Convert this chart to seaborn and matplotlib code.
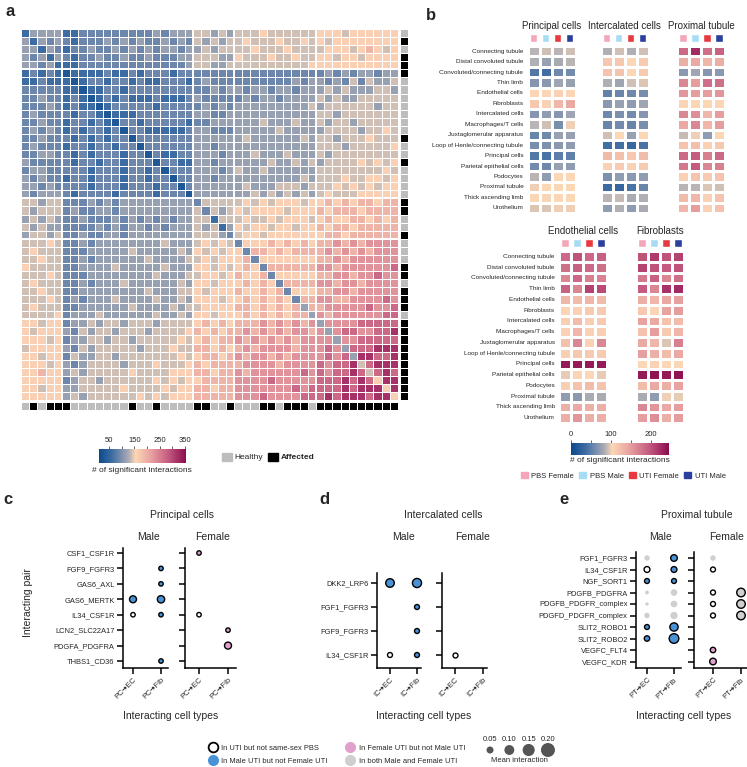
import matplotlib
matplotlib.use('Agg')
import matplotlib.pyplot as plt
from matplotlib import font_manager
from matplotlib.colors import LinearSegmentedColormap, ListedColormap
from matplotlib.patches import Patch
from matplotlib.lines import Line2D
import numpy as np
import pandas as pd
import seaborn as sns

sns.set_style('white')
plt.rcParams['font.family'] = ['Liberation Sans', 'DejaVu Sans']

# ---------------- panel a: sample x sample interaction counts (lower triangle, read by eye)
a_levels = {'0': 30, '1': 60, '2': 90, '3': 115, '4': 140, '5': 162,
            '6': 195, '7': 230, '8': 270, '9': 320}
a_rows = [
    "1", "31", "331", "3231", "33231",
    "12121 0", "11211 1 0", "22222 11 0", "22322 121 0", "22232 1211 0",
    "23222 21221 0", "22322 122121 0", "23232 1212212 0", "22322 21212122 0",
    "23222 122122122 0", "22332 2121222122 0", "32222 21221221222 0",
    "23322 222122212212 0", "32322 1221222122122 0", "33232 22212221222122 0",
    "32333 212222122221222 0",
    "44344 2223232333333333 2",
    "43444 2322332333333333 4 2",
    "34343 2232223232323233 44 1",
    "43433 2222323233232333 434 1",
    "34434 2232233233333333 4443 2",
    "44454 2232333333334333 45454 2",
    "45444 2223333343333343 54545 5 2",
    "44544 2232333333433334 45455 56 2",
    "54444 2233334333334333 55454 565 2",
    "44454 2223333333343334 45545 6556 2",
    "45444 2232333433333343 55455 56565 2",
    "44544 2233333333433344 54555 655656 2",
    "44454 2323334333343343 55545 5656565 2",
    "45444 2233333343333434 45555 66565656 3",
    "44445 2333433333343343 55455 565656566 3",
    "55455 2334344344434444 56565 6667676767 3",
    "54555 3243443444344445 65656 6767676776 7 3",
    "55545 2334434434444454 56566 7676767677 77 3",
    "45555 3243444443444544 66565 6767777677 787 3",
    "55455 2433443444444454 56656 7677676777 7878 3",
    "55545 3234444344454445 65666 6777767777 87889 4",
    "55655 3434444454444555 66566 7677777787 878898 4",
    "55555 2344344444454545 56666 7777877777 8889898 5",
    "55455 3344444544445455 66566 7777777878 88898999 5",
    "55555 3434444445454555 66666 7778777788 898999899 5",
]
a_status = "HAHAAAHHHHHHHAHHAHHHHAAHHAHHHAAHAAAHAAAAAAAAAA"
a_breaks = [5, 21, 26, 36]

# ---------------- panel b
b_rows = ["Connecting tubule", "Distal convoluted tubule", "Convoluted/connecting tubule",
          "Thin limb", "Endothelial cells", "Fibroblasts", "Intercalated cells",
          "Macrophages/T cells", "Juxtaglomerular apparatus", "Loop of Henle/connecting tubule",
          "Principal cells", "Parietal epithelial cells", "Podocytes", "Proximal tubule",
          "Thick ascending limb", "Urothelium"]
b_groups = ["PBS Female", "PBS Male", "UTI Female", "UTI Male"]
b_colors = ["#f4a7b9", "#a8dcf5", "#e8393f", "#2b3f9e"]
b_pc = [[88, 92, 88, 92], [85, 75, 82, 88], [45, 38, 58, 60], [68, 70, 78, 75],
        [105, 105, 108, 105], [115, 108, 130, 140], [68, 72, 68, 78], [88, 92, 62, 100],
        [55, 58, 75, 75], [62, 65, 70, 72], [45, 42, 50, 52], [60, 58, 75, 72],
        [88, 72, 103, 103], [100, 103, 103, 103], [103, 102, 103, 103], [95, 95, 100, 100]]
b_ic = [[85, 92, 85, 92], [115, 115, 103, 112], [118, 118, 103, 112], [85, 78, 92, 95],
        [52, 55, 58, 62], [70, 75, 72, 78], [58, 65, 60, 68], [55, 60, 55, 62],
        [92, 103, 75, 103], [38, 40, 32, 42], [128, 122, 115, 125], [108, 112, 108, 112],
        [65, 72, 70, 72], [35, 30, 42, 55], [88, 90, 82, 85], [72, 85, 72, 82]]
b_pt = [[185, 225, 180, 190], [135, 140, 130, 135], [70, 78, 68, 70], [165, 150, 180, 180],
        [155, 150, 150, 155], [105, 103, 103, 105], [165, 160, 130, 150], [140, 165, 130, 150],
        [90, 100, 72, 103], [118, 122, 108, 115], [185, 195, 170, 185], [175, 195, 165, 170],
        [108, 118, 112, 118], [88, 88, 95, 92], [125, 130, 108, 118], [130, 150, 108, 120]]
b_ec = [[185, 200, 185, 190], [180, 190, 185, 180], [165, 185, 170, 168], [190, 165, 210, 205],
        [130, 125, 130, 125], [105, 108, 112, 112], [110, 125, 110, 112], [108, 130, 108, 110],
        [122, 165, 108, 165], [110, 115, 112, 112], [235, 235, 235, 235], [98, 105, 103, 98],
        [110, 120, 125, 120], [72, 70, 82, 82], [135, 140, 135, 135], [135, 155, 135, 135]]
b_fib = [[200, 215, 200, 210], [210, 200, 195, 200], [175, 190, 165, 180], [195, 165, 220, 225],
         [135, 130, 140, 148], [115, 105, 145, 150], [145, 140, 120, 125], [120, 150, 112, 130],
         [140, 130, 95, 170], [148, 135, 125, 140], [103, 108, 103, 103], [235, 240, 235, 240],
         [125, 140, 135, 145], [82, 72, 100, 98], [165, 155, 140, 150], [150, 160, 135, 150]]

# ---------------- panels c, d, e (dot plots)
c_pairs = ["CSF1_CSF1R", "FGF9_FGFR3", "GAS6_AXL", "GAS6_MERTK", "IL34_CSF1R",
           "LCN2_SLC22A17", "PDGFA_PDGFRA", "THBS1_CD36"]
c_pair = ["FGF9_FGFR3", "GAS6_AXL", "GAS6_MERTK", "GAS6_MERTK", "IL34_CSF1R", "IL34_CSF1R",
          "THBS1_CD36", "CSF1_CSF1R", "IL34_CSF1R", "LCN2_SLC22A17", "PDGFA_PDGFRA"]
c_target = ["Fib", "Fib", "EC", "Fib", "EC", "Fib", "Fib", "EC", "EC", "Fib", "Fib"]
c_sex = ["Male"] * 7 + ["Female"] * 4
c_mean = [0.02, 0.02, 0.05, 0.055, 0.02, 0.02, 0.02, 0.02, 0.02, 0.02, 0.05]
c_group = ["male", "male", "male", "male", "none", "male", "male", "female", "none", "female", "female"]
c_ring = [1] * 11

d_pairs = ["DKK2_LRP6", "FGF1_FGFR3", "FGF9_FGFR3", "IL34_CSF1R"]
d_pair = ["DKK2_LRP6", "DKK2_LRP6", "FGF1_FGFR3", "FGF9_FGFR3", "IL34_CSF1R", "IL34_CSF1R", "IL34_CSF1R"]
d_target = ["EC", "Fib", "Fib", "Fib", "EC", "Fib", "EC"]
d_sex = ["Male"] * 6 + ["Female"]
d_mean = [0.075, 0.085, 0.025, 0.025, 0.025, 0.025, 0.025]
d_group = ["male", "male", "male", "male", "none", "male", "none"]
d_ring = [1] * 7

e_pairs = ["FGF1_FGFR3", "IL34_CSF1R", "NGF_SORT1", "PDGFB_PDGFRA", "PDGFB_PDGFR_complex",
           "PDGFD_PDGFR_complex", "SLIT2_ROBO1", "SLIT2_ROBO2", "VEGFC_FLT4", "VEGFC_KDR"]
e_pair = ["FGF1_FGFR3", "FGF1_FGFR3", "IL34_CSF1R", "IL34_CSF1R", "NGF_SORT1", "NGF_SORT1",
          "PDGFB_PDGFRA", "PDGFB_PDGFRA", "PDGFB_PDGFR_complex", "PDGFB_PDGFR_complex",
          "PDGFD_PDGFR_complex", "PDGFD_PDGFR_complex", "SLIT2_ROBO1", "SLIT2_ROBO1",
          "SLIT2_ROBO2", "SLIT2_ROBO2",
          "FGF1_FGFR3", "IL34_CSF1R", "PDGFB_PDGFRA", "PDGFB_PDGFRA", "PDGFB_PDGFR_complex",
          "PDGFB_PDGFR_complex", "PDGFD_PDGFR_complex", "PDGFD_PDGFR_complex", "VEGFC_FLT4", "VEGFC_KDR"]
e_target = ["EC", "Fib"] * 8 + ["EC", "EC", "EC", "Fib", "EC", "Fib", "EC", "Fib", "EC", "EC"]
e_sex = ["Male"] * 16 + ["Female"] * 10
e_mean = [0.03, 0.045, 0.035, 0.035, 0.025, 0.025, 0.015, 0.045, 0.012, 0.045, 0.03, 0.055,
          0.025, 0.07, 0.03, 0.095,
          0.03, 0.025, 0.025, 0.075, 0.025, 0.075, 0.025, 0.075, 0.03, 0.045]
e_group = ["both", "male", "none", "male", "male", "male", "both", "both", "both", "both",
           "both", "both", "male", "male", "male", "male",
           "both", "none", "none", "both", "none", "both", "none", "both", "female", "female"]
e_ring = [0, 1, 1, 1, 1, 1, 0, 0, 0, 0, 0, 0, 1, 1, 1, 1,
          0, 1, 1, 1, 1, 1, 1, 1, 1, 1]

dot_colors = {"male": "#4a92d6", "female": "#e2a0cc", "both": "#cfcfcf", "none": "white"}
dot_labels = ["In UTI but not same-sex PBS", "In Male UTI but not Female UTI",
              "In Female UTI but not Male UTI", "In both Male and Female UTI"]
size_levels = [0.05, 0.10, 0.15, 0.20]

W, H = 747, 767
fig = plt.figure(figsize=(W / 100, H / 100), dpi=100)


def px_axes(x0, y0, x1, y1):
    return fig.add_axes([x0 / W, 1 - y1 / H, (x1 - x0) / W, (y1 - y0) / H])


try:
    font_manager.findfont('Liberation Sans Narrow', fallback_to_default=False)
    narrow, narrow_size = 'Liberation Sans Narrow', 5.2
except ValueError:
    narrow, narrow_size = 'Liberation Sans', 4.6

cmap = LinearSegmentedColormap.from_list('bp', [
    (0.0, '#0b4a8f'), (0.15, '#3f6da3'), (0.28, '#8797b0'), (0.35, '#b3b1b4'),
    (0.42, '#fcd7b6'), (0.6, '#e7a1a0'), (0.8, '#c45a7f'), (1.0, '#8a0c4f')])

# ---------------- panel a
n = len(a_rows)
mat = np.zeros((n, n))
for i, row in enumerate(a_rows):
    row = row.replace(' ', '')
    assert len(row) == i + 1, (i, len(row))
    for j, ch in enumerate(row):
        mat[i, j] = mat[j, i] = a_levels[ch]

ax = px_axes(21, 29, 398, 400)
sns.heatmap(mat, cmap=cmap, vmin=10, vmax=354, linewidths=0.5, linecolor='white',
            cbar=False, xticklabels=False, yticklabels=False, ax=ax)
for b in a_breaks:
    ax.axhline(b, color='white', lw=1.4)
    ax.axvline(b, color='white', lw=1.4)

status = np.array([1 if s == 'A' else 0 for s in a_status])
stat_cmap = ListedColormap(['#bdbdbd', 'black'])
ax = px_axes(400, 29, 408, 400)
sns.heatmap(status[:, None], cmap=stat_cmap, vmin=0, vmax=1, linewidths=0.5, linecolor='white',
            cbar=False, xticklabels=False, yticklabels=False, ax=ax)
ax = px_axes(21, 402, 398, 410)
sns.heatmap(status[None, :], cmap=stat_cmap, vmin=0, vmax=1, linewidths=0.5, linecolor='white',
            cbar=False, xticklabels=False, yticklabels=False, ax=ax)

cax = px_axes(99, 449, 186, 463)
sm = plt.cm.ScalarMappable(norm=plt.Normalize(10, 354), cmap=cmap)
cb = fig.colorbar(sm, cax=cax, orientation='horizontal', ticks=[50, 150, 250, 350])
cb.outline.set_visible(False)
cax.xaxis.set_ticks_position('top')
cax.set_xticks([100, 200, 300], minor=True)
cax.tick_params(which='both', labelsize=5.5, length=2.5, width=0.5, pad=1)
fig.text(142 / W, 1 - 470 / H, '# of significant interactions', ha='center', va='center', fontsize=6)

leg = fig.legend(handles=[Patch(color='#bdbdbd'), Patch(color='black')], labels=['Healthy', 'Affected'],
                 ncol=2, loc='center left', bbox_to_anchor=(214 / W, 1 - 457 / H), frameon=False,
                 fontsize=6, handlelength=1.2, handleheight=1.1, columnspacing=0.5, handletextpad=0.4)
leg.get_texts()[1].set_fontweight('bold')

# ---------------- panel b
def b_heat(x0, y0, y1, vals, title, labels):
    ax = px_axes(x0, y0, x0 + 48, y1)
    sns.heatmap(np.array(vals), cmap=cmap, vmin=0, vmax=245, linewidths=0.9, linecolor='white',
                cbar=False, xticklabels=False, yticklabels=b_rows if labels else False, ax=ax)
    ax.tick_params(length=0, pad=3)
    for t in ax.get_yticklabels():
        t.set_fontsize(narrow_size)
        t.set_fontfamily(narrow)
        t.set_rotation(0)
    top = px_axes(x0, y0 - 12, x0 + 48, y0 - 4)
    top.bar(np.arange(4) + 0.5, 1, width=0.6, color=b_colors)
    top.set_xlim(0, 4)
    top.set_ylim(0, 1)
    top.axis('off')
    fig.text((x0 + 24) / W, 1 - (y0 - 20) / H, title, ha='center', va='center', fontsize=7)


b_heat(527.5, 46, 213, b_pc, 'Principal cells', True)
b_heat(600.5, 46, 213, b_ic, 'Intercalated cells', False)
b_heat(677, 46, 213, b_pt, 'Proximal tubule', False)
b_heat(559, 251, 423, b_ec, 'Endothelial cells', True)
b_heat(636, 251, 423, b_fib, 'Fibroblasts', False)

cax = px_axes(571, 443, 669, 455)
sm = plt.cm.ScalarMappable(norm=plt.Normalize(0, 245), cmap=cmap)
cb = fig.colorbar(sm, cax=cax, orientation='horizontal', ticks=[0, 100, 200])
cb.outline.set_visible(False)
cax.xaxis.set_ticks_position('top')
cax.set_xticks([50, 150], minor=True)
cax.tick_params(which='both', labelsize=5.5, length=2.5, width=0.5, pad=1)
fig.text(620 / W, 1 - 461 / H, '# of significant interactions', ha='center', va='center', fontsize=6)

fig.legend(handles=[Patch(color=c) for c in b_colors], labels=b_groups, ncol=4,
           loc='center left', bbox_to_anchor=(514 / W, 1 - 476 / H), frameon=False,
           fontsize=5.5, handlelength=0.9, handleheight=0.9, columnspacing=0.7, handletextpad=0.45)

# ---------------- panels c, d, e
def dot_panel(prefix, pairs, pair, target, sex, mean, group, ring, boxes, first_y, step, top, title, title_x, sex_x):
    df = pd.DataFrame({'pair': pair, 'target': target, 'sex': sex, 'mean': mean,
                       'group': group, 'ring': ring})
    df['y'] = df['pair'].map({p: i for i, p in enumerate(pairs)})
    df['x'] = df['target'].map({'EC': 0, 'Fib': 1})
    for k, sx in enumerate(['Male', 'Female']):
        left, ec, fib, right = boxes[k]
        u = fib - ec
        ax = px_axes(left, top, right, 668)
        sub = df[df['sex'] == sx]
        for r, part in sub.groupby('ring'):
            sns.scatterplot(data=part, x='x', y='y', hue='group', palette=dot_colors,
                            size='mean', sizes=(0, 101.6), size_norm=(0, 0.2),
                            edgecolor='black' if r else 'none', linewidth=1.0 if r else 0,
                            legend=False, clip_on=False, zorder=3, ax=ax)
        ax.set_xlim((left - ec) / u, (right - ec) / u)
        ax.set_ylim((668 - first_y) / step, (top - first_y) / step)
        ax.set_yticks(range(len(pairs)))
        ax.set_yticklabels(pairs if k == 0 else [])
        ax.set_xticks([0, 1])
        ax.set_xticklabels([prefix + '\u2794EC', prefix + '\u2794Fib'], rotation=45,
                           ha='right', rotation_mode='anchor')
        ax.set_xlabel('')
        ax.set_ylabel('')
        for s in ['top', 'right']:
            ax.spines[s].set_visible(False)
        for s in ['left', 'bottom']:
            ax.spines[s].set_linewidth(1.1)
            ax.spines[s].set_color('black')
        ax.tick_params(axis='both', length=4, width=1.1, labelsize=5.4, pad=2, color='black',
                       left=True, bottom=True)
        ax.set_facecolor('none')
        fig.text(sex_x[k] / W, 1 - 537 / H, sx, ha='center', va='center', fontsize=7.5)
    fig.text(title_x / W, 1 - 515 / H, title, ha='center', va='center', fontsize=7.5)


dot_panel('PC', c_pairs, c_pair, c_target, c_sex, c_mean, c_group, c_ring,
          [(123, 133, 161, 168), (185, 199, 228, 236)], 553, 15.43, 548,
          'Principal cells', 182, (148, 213))
dot_panel('IC', d_pairs, d_pair, d_target, d_sex, d_mean, d_group, d_ring,
          [(377, 390, 417, 421), (442, 455, 483, 487)], 583, 24.0, 573,
          'Intercalated cells', 443, (404, 473))
dot_panel('PT', e_pairs, e_pair, e_target, e_sex, e_mean, e_group, e_ring,
          [(636, 647, 674, 681), (694, 713, 741, 748)], 558, 11.5, 552,
          'Proximal tubule', 697, (661, 727))

fig.text(28 / W, 1 - 603 / H, 'Interacting pair', rotation=90, ha='center', va='center', fontsize=7.5)
for x in (171, 424, 684):
    fig.text(x / W, 1 - 716 / H, 'Interacting cell types', ha='center', va='center', fontsize=7.5)

cat_handles = [
    Line2D([], [], ls='', marker='o', markersize=7, markerfacecolor='white', markeredgecolor='black', markeredgewidth=1.3),
    Line2D([], [], ls='', marker='o', markersize=8, markerfacecolor=dot_colors['male'], markeredgewidth=0),
    Line2D([], [], ls='', marker='o', markersize=8, markerfacecolor=dot_colors['female'], markeredgewidth=0),
    Line2D([], [], ls='', marker='o', markersize=8, markerfacecolor=dot_colors['both'], markeredgewidth=0),
]
fig.legend(handles=cat_handles, labels=dot_labels, ncol=2, loc='upper left',
           bbox_to_anchor=(202 / W, 1 - 738 / H), frameon=False, fontsize=5.4,
           handlelength=1.2, handletextpad=0.5, columnspacing=2.4, labelspacing=0.75)

ax = px_axes(480, 735, 558, 765)
sdf = pd.DataFrame({'x': range(len(size_levels)), 'y': 0, 'mean': size_levels})
sns.scatterplot(data=sdf, x='x', y='y', size='mean', sizes=(0, 101.6), size_norm=(0, 0.2),
                color='#555555', edgecolor='none', legend=False, ax=ax)
for i, v in enumerate(size_levels):
    ax.text(i, 0.72, f'{v:.2f}', ha='center', va='center', fontsize=5.5)
ax.text(1.5, -0.72, 'Mean interaction', ha='center', va='center', fontsize=5.5)
ax.set_xlim(-0.52, 3.52)
ax.set_ylim(-1, 1)
ax.axis('off')

for x, y, s in [(5, 12, 'a'), (426, 15, 'b'), (3, 499, 'c'), (319, 499, 'd'), (559, 499, 'e')]:
    fig.text(x / W, 1 - y / H, s, fontsize=12, fontweight='bold', ha='left', va='center')

fig.savefig('out.png', dpi=100)
